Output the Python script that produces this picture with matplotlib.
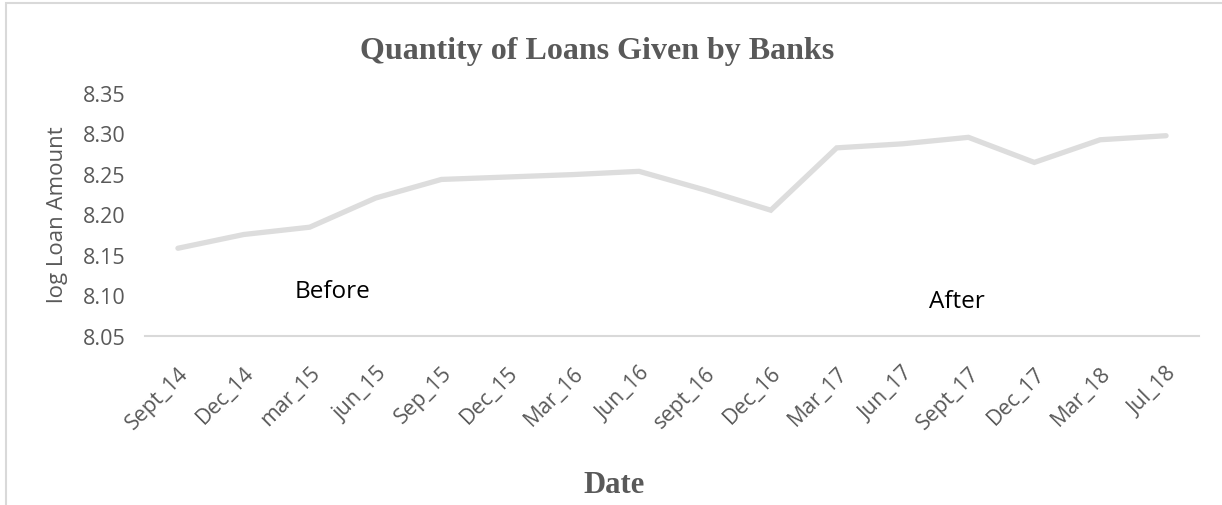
import matplotlib
matplotlib.use("Agg")
import matplotlib.pyplot as plt
from matplotlib.patches import Rectangle

# Données
dates = ["Sept_14", "Dec_14", "mar_15", "jun_15", "Sep_15", "Dec_15", "Mar_16", "Jun_16",
         "sept_16", "Dec_16", "Mar_17", "Jun_17", "Sept_17", "Dec_17", "Mar_18", "Jul_18"]
log_montant = [8.158, 8.175, 8.184, 8.220, 8.243, 8.246, 8.249, 8.253,
               8.230, 8.205, 8.282, 8.287, 8.295, 8.264, 8.292, 8.297]
graduations_y = [8.05, 8.10, 8.15, 8.20, 8.25, 8.30, 8.35]

gris_texte = "#595959"
gris_trait = "#D9D9D9"
police = ["Open Sans", "DejaVu Sans"]
police_titre = ["Liberation Serif", "DejaVu Serif"]

fig = plt.figure(figsize=(12.22, 5.06), dpi=100)
ax = fig.add_axes([145 / 1222, 1 - 336.7 / 506, (1199 - 145) / 1222, (336.7 - 93.8) / 506])

x = list(range(len(dates)))
ax.plot(x, log_montant, color="#DDDDDD", linewidth=3.8, solid_capstyle="round",
        solid_joinstyle="miter")

ax.set_xlim(-0.5, len(dates) - 0.5)
ax.set_ylim(8.05, 8.35)
ax.set_yticks(graduations_y)
ax.set_yticklabels([f"{v:.2f}" for v in graduations_y], family=police, fontsize=15.5,
                   color=gris_texte)
ax.set_xticks(x)
ax.set_xticklabels(dates, rotation=45, ha="right", rotation_mode="anchor",
                   family=police, fontsize=15.5, color=gris_texte)
ax.tick_params(axis="both", length=0)
ax.tick_params(axis="y", pad=14)
ax.tick_params(axis="x", pad=19)

for cote in ["top", "right", "left"]:
    ax.spines[cote].set_visible(False)
ax.spines["bottom"].set_color(gris_trait)
ax.spines["bottom"].set_linewidth(1.5)

# Annotations avant / après
ax.text(2.35, 8.0975, "Before", family=police, fontsize=17.5, color="black",
        ha="center", va="baseline")
ax.text(11.82, 8.085, "After", family=police, fontsize=17.5, color="black",
        ha="center", va="baseline")

# Titres
fig.text(597 / 1222, 1 - 52 / 506, "Quantity of Loans Given by Banks", family=police_titre,
         fontweight="bold", fontsize=23, color=gris_texte, ha="center", va="center")
fig.text(614 / 1222, 1 - 493 / 506, "Date", family=police_titre, fontweight="bold",
         fontsize=22, color=gris_texte, ha="center", va="baseline")
fig.text(57 / 1222, 1 - 215 / 506, "log Loan Amount", family=police, fontsize=16,
         color=gris_texte, rotation=90, ha="center", va="center")

# Cadre du graphique (coupé à droite et en bas)
fig.patches.append(Rectangle((6 / 1222, -0.2), 1.2, 1.2 - 4 / 506, transform=fig.transFigure,
                             fill=False, edgecolor=gris_trait, linewidth=1.5))

fig.savefig("out.png", dpi=100)
